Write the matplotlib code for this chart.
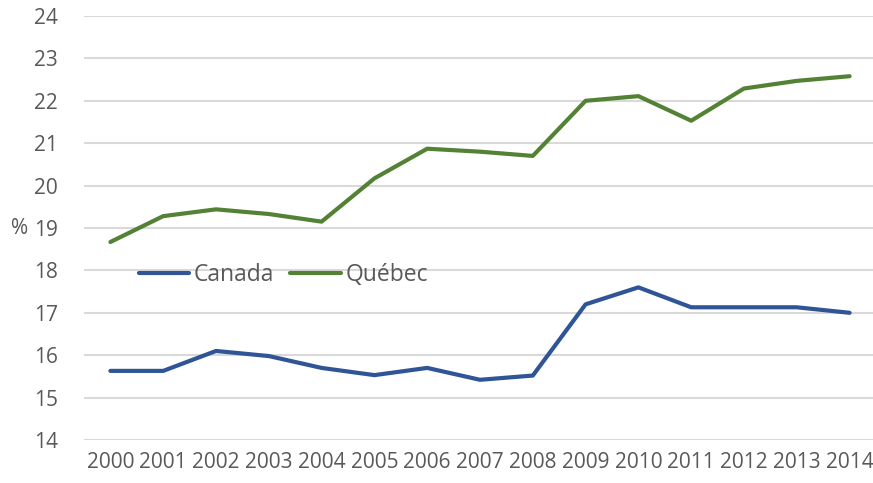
import matplotlib
matplotlib.use("Agg")
import matplotlib.pyplot as plt

years = [str(y) for y in range(2000, 2015)]
canada = [15.63, 15.63, 16.10, 15.98, 15.70, 15.53, 15.70, 15.42, 15.52, 17.20, 17.60, 17.13, 17.13, 17.13, 17.00]
quebec = [18.67, 19.28, 19.44, 19.33, 19.15, 20.17, 20.87, 20.80, 20.70, 22.00, 22.11, 21.53, 22.29, 22.47, 22.58]
yticks = list(range(14, 25))

plt.rcParams['font.family'] = ['Open Sans', 'DejaVu Sans']
fig = plt.figure(figsize=(8.73, 4.83), dpi=100)
ax = fig.add_axes([84/873, 1-440/483, (876-84)/873, (440-16)/483])

x = list(range(len(years)))
ax.plot(x, canada, color='#2F5597', lw=3, solid_capstyle='round', label='Canada', zorder=3)
ax.plot(x, quebec, color='#548235', lw=3, solid_capstyle='round', label='Québec', zorder=3)

ax.set_xlim(-0.5, len(years)-0.5)
ax.set_ylim(14, 24)
ax.set_yticks(yticks)
ax.set_yticklabels([str(v) for v in yticks])
ax.set_xticks(x)
ax.set_xticklabels(years)
ax.grid(axis='y', color='#D9D9D9', lw=1.5)
ax.set_axisbelow(True)
for s in ax.spines.values():
    s.set_visible(False)
ax.tick_params(axis='both', length=0, labelsize=15, colors='#595959')
ax.tick_params(axis='y', pad=19)
ax.tick_params(axis='x', pad=9)
ax.set_ylabel('%', rotation=0, fontsize=15, color='#595959', va='center', labelpad=10)

leg = ax.legend(loc='center', bbox_to_anchor=(0.252, 0.39), ncol=2, frameon=False,
                fontsize=16.5, handlelength=2.2, handletextpad=0.2, columnspacing=0.7,
                labelcolor='#595959')

fig.savefig('out.png', dpi=100)
